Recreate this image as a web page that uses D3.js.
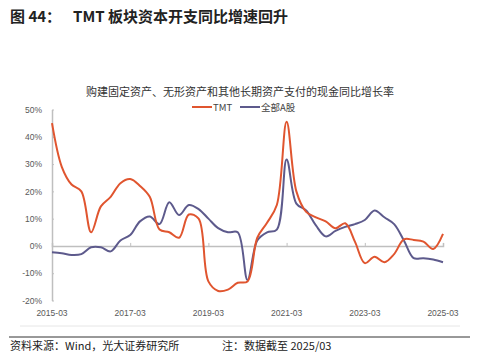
<!DOCTYPE html>
<html lang="zh">
<head>
<meta charset="UTF-8">
<title>TMT 板块资本开支同比增速回升</title>
<style>
  body { margin: 0; background: #fff; }
  svg { display: block; font-family: "Noto Sans CJK SC", "Noto Sans", sans-serif; }
</style>
</head>
<body>
<svg></svg>
<script src="https://d3js.org/d3.v7.min.js"></script>
<script>
// quarterly, 2015-03 .. 2025-03
var tmt = [45, 29, 22.5, 20, 5, 14.5, 18, 23, 24.5, 22,
           18, 6, 5, 3, 11.5, 10, -13, -16.5, -16, -13.5,
           -13, 3, 8.5, 15, 45.5, 20, 12.5, 10.5, 9, 6.5,
           8.3, 1.5, -6.3, -4, -6, -3, 2.4, 2.2, 1.6, -1.1, 4.4];
var allA = [-2.3, -2.7, -3.3, -3, -0.5, -0.5, -2, 2, 4, 9,
            10.8, 8, 16, 11.3, 15, 13.5, 10, 6.5, 5, 5,
            -12.5, 2, 5, 6, 31.7, 15.5, 13, 7.5, 3.5, 5.5,
            7, 8, 9.5, 13, 10.5, 8, 2, -4.5, -4.5, -5, -6];
var yTicks = [-20, -10, 0, 10, 20, 30, 40, 50];
var xTickLabels = ["2015-03", "2017-03", "2019-03", "2021-03", "2023-03", "2025-03"];
var seriesNames = ["TMT", "全部A股"];
var colors = ["#e0552f", "#5d5a8c"];

var width = 486, height = 363;
var plotLeft = 52, plotRight = 443, plotTop = 109.5, plotBottom = 300.5;

var svg = d3.select("svg").attr("width", width).attr("height", height);

// header
svg.append("text").attr("x", 10).attr("y", 22)
    .attr("font-size", 15).attr("font-weight", "bold").attr("fill", "#222")
    .text("图 44：");
svg.append("text").attr("x", 73).attr("y", 22)
    .attr("font-size", 15).attr("font-weight", "bold").attr("fill", "#222")
    .text("TMT 板块资本开支同比增速回升");

svg.append("text").attr("x", 240).attr("y", 96)
    .attr("text-anchor", "middle").attr("font-size", 11).attr("fill", "#333")
    .text("购建固定资产、无形资产和其他长期资产支付的现金同比增长率");

var x = d3.scaleLinear().domain([0, tmt.length - 1]).range([plotLeft, plotRight]);
var y = d3.scaleLinear().domain([-20, 50]).range([plotBottom, plotTop]);

// y axis
var yAxis = d3.axisLeft(y).tickValues(yTicks).tickSize(0).tickPadding(10)
    .tickFormat(function (d) { return d + "%"; });
var gy = svg.append("g").attr("transform", "translate(" + plotLeft + ",0)").call(yAxis);
gy.select(".domain").attr("stroke", "#bfbfbf").attr("stroke-width", 1.5);
gy.selectAll("text").attr("font-size", 8.5).attr("fill", "#595959")
    .attr("font-family", "Liberation Sans, Arial, sans-serif");
gy.selectAll(".tick").append("line").attr("x2", 2).attr("stroke", "#bfbfbf");

// x axis on zero line
var xAxis = d3.axisTop(x).tickValues(d3.range(0, tmt.length, 8)).tickSize(3)
    .tickFormat("");
var gx = svg.append("g").attr("transform", "translate(0," + y(0) + ")").call(xAxis);
gx.select(".domain").attr("stroke", "#bfbfbf").attr("stroke-width", 1.5);
gx.selectAll(".tick line").attr("stroke", "#bfbfbf");

svg.append("g").selectAll("text").data(xTickLabels).enter().append("text")
    .attr("x", function (d, i) { return x(i * 8); })
    .attr("y", 316)
    .attr("text-anchor", "middle").attr("font-size", 8.5).attr("fill", "#595959")
    .attr("font-family", "Liberation Sans, Arial, sans-serif")
    .text(function (d) { return d; });

// lines
var line = d3.line()
    .x(function (d, i) { return x(i); })
    .y(function (d) { return y(d); })
    .curve(d3.curveCatmullRom.alpha(0.5));

[allA, tmt].forEach(function (s, k) {
    svg.append("path").datum(s)
        .attr("fill", "none")
        .attr("stroke", colors[1 - k])
        .attr("stroke-width", 2)
        .attr("d", line);
});

// legend
var legendX = [192, 240];
seriesNames.forEach(function (n, i) {
    var g = svg.append("g").attr("transform", "translate(" + legendX[i] + ",107)");
    g.append("line").attr("x1", 0).attr("x2", 20).attr("stroke", colors[i]).attr("stroke-width", 2);
    g.append("text").attr("x", 21).attr("y", 3.5).attr("font-size", 9.5).attr("fill", "#444").text(n);
});

// footer
svg.append("line").attr("x1", 20).attr("x2", 460).attr("y1", 326).attr("y2", 326)
    .attr("stroke", "#e6e6e6");
svg.append("line").attr("x1", 9).attr("x2", 470).attr("y1", 337).attr("y2", 337)
    .attr("stroke", "#333").attr("stroke-width", 1);
svg.append("text").attr("x", 10).attr("y", 350).attr("font-size", 11).attr("fill", "#222")
    .text("资料来源：Wind，光大证券研究所");
svg.append("text").attr("x", 222).attr("y", 350).attr("font-size", 11).attr("fill", "#222")
    .text("注：数据截至 2025/03");
</script>
</body>
</html>
